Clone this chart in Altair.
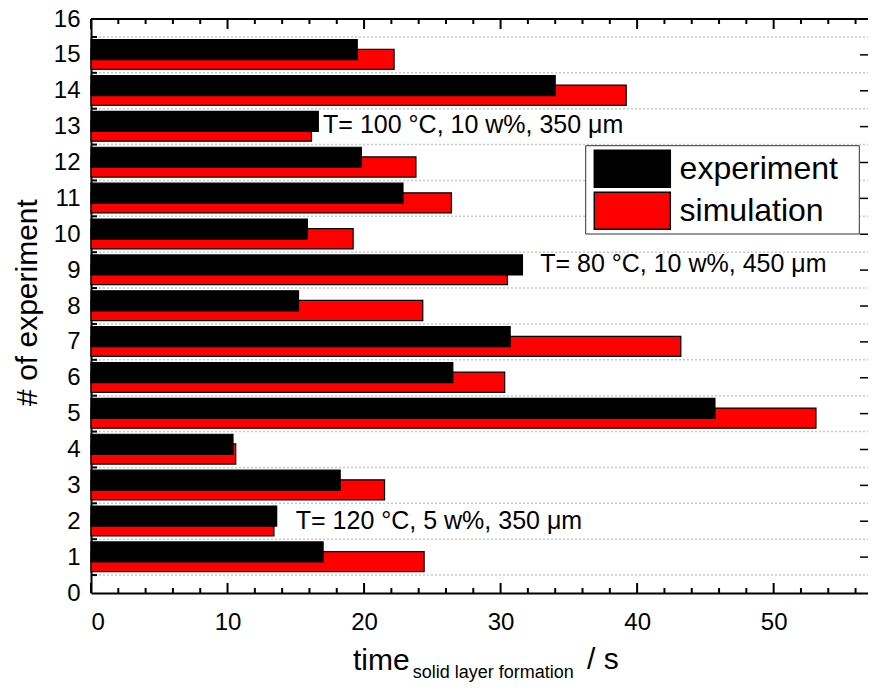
import altair as alt
import pandas as pd

FONT = "Liberation Sans"

# ---- data ----
experiments = list(range(1, 16))
experiment_values = [17.0, 13.6, 18.25, 10.4, 45.7, 26.5, 30.7, 15.2, 31.6, 15.85, 22.85, 19.8, 16.65, 34.0, 19.5]
simulation_values = [24.4, 13.4, 21.5, 10.6, 53.1, 30.3, 43.2, 24.3, 30.5, 19.2, 26.4, 23.8, 16.15, 39.2, 22.2]
series_names = ["experiment", "simulation"]
series_colors = ["#000000", "#ff0000"]

x_tick_labels = [0, 10, 20, 30, 40, 50]
x_minor_ticks = [2, 4, 6, 8, 12, 14, 16, 18, 22, 24, 26, 28, 32, 34, 36, 38, 42, 44, 46, 48, 52, 54, 56]
y_tick_labels = list(range(0, 17))
y_half_ticks = [0.5, 1.5, 2.5, 3.5, 4.5, 5.5, 6.5, 7.5, 8.5, 9.5, 10.5, 11.5, 12.5, 13.5, 14.5, 15.5]
y_right_ticks = list(range(1, 16))

annotation_texts = ["T= 100 °C, 10 w%, 350 μm", "T= 80 °C, 10 w%, 450 μm", "T= 120 °C, 5 w%, 350 μm"]
annotation_x = [17.0, 32.9, 15.0]
annotation_y = [13.05, 9.17, 2.0]

W, H = 777, 574
X_MAX = 56.91

# ---- tables ----
bars_df = pd.DataFrame({
    "exp": experiments + experiments,
    "value": simulation_values + experiment_values,
    "series": ["simulation"] * len(experiments) + ["experiment"] * len(experiments),
})
ann_df = pd.DataFrame({"text": annotation_texts, "x": annotation_x, "y": annotation_y})
one = pd.DataFrame({"k": [0]})

xscale = alt.Scale(domain=[0, X_MAX], nice=False, zero=True)
yscale = alt.Scale(domain=[0, 16], nice=False, zero=True)

X_AXIS = alt.Axis(values=x_tick_labels, title=None, ticks=False, tickSize=0, labelPadding=17,
                  labelFontSize=24, labelFont=FONT, labelColor="black", domainColor="black",
                  domainWidth=2, grid=False, format="d")
Y_AXIS = alt.Axis(values=y_tick_labels, title=None, ticks=False, tickSize=0, labelPadding=11,
                  labelFontSize=24, labelFont=FONT, labelColor="black", domainColor="black",
                  domainWidth=2, grid=False, format="d")


def xenc(field):
    return alt.X(field, scale=xscale, axis=X_AXIS)


def yenc(field):
    return alt.Y(field, scale=yscale, axis=Y_AXIS)


grid = alt.Chart(pd.DataFrame({"t": y_half_ticks})).mark_rule(
    color="#c8c8c8", strokeWidth=1.5, strokeDash=[2, 2]
).encode(y=yenc("t:Q"), x=alt.value(0), x2=alt.value(W))

bars = alt.Chart(bars_df).transform_calculate(
    c="datum.series == 'experiment' ? datum.exp + 0.145 : datum.exp - 0.125"
).transform_calculate(
    y0="datum.c - 0.28", y1="datum.c + 0.28"
).mark_rect(stroke="black", strokeWidth=1.2).encode(
    x=xenc("value:Q"),
    x2=alt.datum(0),
    y=yenc("y0:Q"),
    y2="y1:Q",
    color=alt.Color("series:N", scale=alt.Scale(domain=series_names, range=series_colors),
                    legend=alt.Legend(
                        orient="none", legendX=494.7, legendY=126.7, title=None,
                        symbolType="M-1,-0.487H1V0.487H-1Z", symbolSize=5776, clipHeight=42,
                        rowPadding=0, padding=2, symbolOffset=5.6, labelOffset=8.3,
                        labelFontSize=32, labelFont=FONT, labelColor="black", labelLimit=400,
                        symbolStrokeColor="black", symbolStrokeWidth=1.5, symbolOpacity=1)),
)

# frame drawn behind the legend entries
legend_frame = alt.Chart(one).mark_rect(fill="white", stroke="#333333", strokeWidth=1).encode(
    x=alt.value(494.7), x2=alt.value(768.3), y=alt.value(126.7), y2=alt.value(215)
)

ann = alt.Chart(ann_df).mark_text(
    align="left", baseline="middle", fontSize=25, font=FONT, color="black"
).encode(x=xenc("x:Q"), y=yenc("y:Q"), text="text:N")


def xticks(vals, y1, y2):
    return alt.Chart(pd.DataFrame({"t": vals})).mark_rule(color="black", strokeWidth=2).encode(
        x=xenc("t:Q"), y=alt.value(y1), y2=alt.value(y2))


bottom_major = xticks(x_tick_labels, H, H - 10)
bottom_minor = xticks(x_minor_ticks, H, H - 5)
top_major = xticks(x_tick_labels, 0, 10)
top_minor = xticks(x_minor_ticks, 0, 5)

left_ticks = alt.Chart(pd.DataFrame({"t": y_half_ticks})).mark_rule(color="black", strokeWidth=2).encode(
    y=yenc("t:Q"), x=alt.value(0), x2=alt.value(6))
right_ticks = alt.Chart(pd.DataFrame({"t": y_right_ticks})).mark_rule(color="black", strokeWidth=1.5).encode(
    y=yenc("t:Q"), x=alt.value(W - 8), x2=alt.value(W))
top_line = alt.Chart(pd.DataFrame({"t": [16]})).mark_rule(color="black", strokeWidth=2).encode(
    y=yenc("t:Q"), x=alt.value(0), x2=alt.value(W))

t_time = alt.Chart(one).mark_text(text="time", fontSize=30, font=FONT, align="left",
                                  baseline="alphabetic", color="black").encode(x=alt.value(262), y=alt.value(651))
t_sub = alt.Chart(one).mark_text(text="solid layer formation", fontSize=18, font=FONT, align="left",
                                 baseline="alphabetic", color="black").encode(x=alt.value(321.7), y=alt.value(659))
t_unit = alt.Chart(one).mark_text(text="/ s", fontSize=30, font=FONT, align="left",
                                  baseline="alphabetic", color="black").encode(x=alt.value(496), y=alt.value(650))
t_y = alt.Chart(one).mark_text(text="# of experiment", fontSize=30, font=FONT, align="center", angle=270,
                               baseline="alphabetic", color="black").encode(x=alt.value(-54), y=alt.value(283.5))

chart = alt.layer(
    grid, bars, ann, legend_frame, bottom_major, bottom_minor, top_major, top_minor,
    left_ticks, right_ticks, top_line, t_time, t_sub, t_unit, t_y
).properties(
    width=W, height=H,
    padding={"left": 83, "top": 11, "right": 0, "bottom": 91},
    autosize=alt.AutoSizeParams(type="none"),
    background="white",
).configure_view(stroke=None)

chart.save("out.html", embed_options={"renderer": "svg", "actions": False})
